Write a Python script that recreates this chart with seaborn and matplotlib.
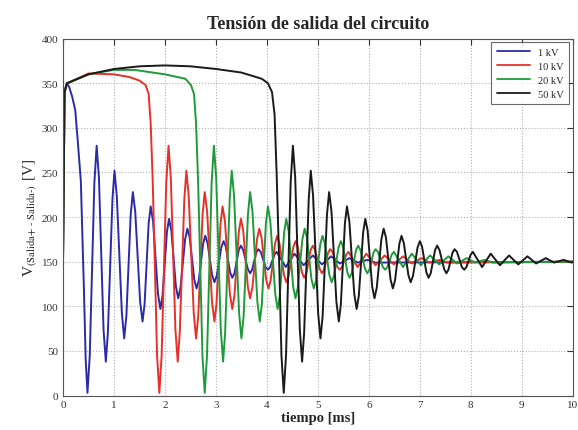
import pandas as pd
import matplotlib
matplotlib.use("Agg")
import matplotlib.pyplot as plt
import seaborn as sns

# values (tiempo in ms, tension in V)
# start of each curve up to the first trough after the fall
pre_t_1kv = [0, 0.03, 0.07, 0.12, 0.18, 0.24, 0.29, 0.35, 0.41, 0.445, 0.48]
pre_v_1kv = [150, 340, 350, 346, 335, 320, 285, 240, 120, 40, 3]

pre_t_10kv = [0, 0.03, 0.08, 0.5, 1.0, 1.3, 1.5, 1.62, 1.68, 1.72, 1.76, 1.80,
              1.845, 1.89]
pre_v_10kv = [150, 340, 350, 361, 360, 357, 353, 348, 338, 305, 240, 150,
              45, 3]

pre_t_20kv = [0, 0.03, 0.08, 0.5, 1.0, 1.4, 2.0, 2.4, 2.51, 2.57, 2.61, 2.65,
              2.69, 2.735, 2.78]
pre_v_20kv = [150, 340, 350, 360, 365, 365, 360, 355, 348, 338, 305, 240,
              150, 45, 3]

pre_t_50kv = [0, 0.03, 0.08, 0.5, 1.0, 1.5, 2.0, 2.5, 3.0, 3.5, 3.9, 4.02,
              4.10, 4.15, 4.19, 4.24, 4.285, 4.33]
pre_v_50kv = [150, 340, 350, 360, 366, 369, 370, 369, 366, 362, 355, 350,
              340, 315, 250, 150, 45, 3]

# ringing after the first trough (the same for the four curves):
# time since the first trough [ms] and tension [V]
ring_dt = [0.000, 0.045, 0.135, 0.180, 0.225, 0.315, 0.360, 0.400, 0.490, 0.530,
           0.575, 0.675, 0.720, 0.763, 0.848, 0.890, 0.937, 1.033, 1.080, 1.120,
           1.200, 1.240, 1.287, 1.383, 1.430, 1.473, 1.558, 1.600, 1.645, 1.735,
           1.780, 1.825, 1.915, 1.960, 2.005, 2.095, 2.140, 2.183, 2.268, 2.310,
           2.355, 2.445, 2.490, 2.535, 2.625, 2.670, 2.713, 2.798, 2.840, 2.883,
           2.968, 3.010, 3.055, 3.145, 3.190, 3.230, 3.310, 3.350, 3.398, 3.493,
           3.540, 3.583, 3.668, 3.710, 3.890, 4.060, 4.240, 4.420, 4.600, 4.780,
           4.950, 5.140, 5.300, 5.490, 5.650]
ring_v = [3, 45, 238, 280, 244, 74, 38, 70, 220, 252,
          224, 92, 64, 89, 203, 228, 206, 105, 83, 102,
          193, 212, 195, 114, 97, 112, 183, 198, 185, 122,
          109, 121, 175, 187, 177, 130, 120, 129, 170, 179,
          171, 135, 127, 134, 166, 173, 167, 138, 132, 137,
          163, 168, 163, 142, 137, 141, 160, 164, 161, 144,
          141, 144, 158, 161, 144, 159, 146, 157, 147, 156,
          148, 154, 149, 152, 149]

# first trough of each curve [ms]
t0_1kv, t0_10kv, t0_20kv, t0_50kv = 0.48, 1.89, 2.78, 4.33

labels = ["1 kV", "10 kV", "20 kV", "50 kV"]
colores = ["#2b2ba8", "#e8302a", "#1f9a3a", "#1a1a1a"]

frames = []
for lab, pt, pv, t0 in zip(labels,
                           [pre_t_1kv, pre_t_10kv, pre_t_20kv, pre_t_50kv],
                           [pre_v_1kv, pre_v_10kv, pre_v_20kv, pre_v_50kv],
                           [t0_1kv, t0_10kv, t0_20kv, t0_50kv]):
    t = pt + [t0 + d for d in ring_dt[1:]] + [10.0]
    v = pv + ring_v[1:] + [150]
    frames.append(pd.DataFrame({"tiempo": t, "tension": v, "serie": lab}))
df = pd.concat(frames, ignore_index=True)

sns.set_style("white")
plt.rcParams["font.family"] = ["Liberation Serif", "DejaVu Serif"]
plt.rcParams["mathtext.fontset"] = "stix"

fig = plt.figure(figsize=(5.78, 4.31), dpi=100)
ax = fig.add_axes([0.109, 0.080, 0.882, 0.828])

sns.lineplot(data=df, x="tiempo", y="tension", hue="serie", hue_order=labels,
             palette=dict(zip(labels, colores)), estimator=None, sort=False,
             linewidth=1.4, ax=ax)

ax.set_xlim(0, 10)
ax.set_ylim(0, 400)
ax.set_xticks(range(0, 11))
ax.set_yticks(range(0, 401, 50))
ax.grid(True, linestyle=":", color="#b0b0b0", linewidth=0.8)
ax.tick_params(direction="in", length=4, width=0.8, labelsize=8,
               top=True, right=True, colors="#333333")
for s in ax.spines.values():
    s.set_color("#555555")
    s.set_linewidth(0.8)

ax.set_title("Tensión de salida del circuito", fontsize=13, fontweight="bold", pad=8)
ax.set_xlabel("tiempo [ms]", fontsize=10.5, fontweight="bold", labelpad=1)
ax.set_ylabel(r"V$_{\text{(Salida+ - Salida-)}}$ [V]", fontsize=11, labelpad=2)

leg = ax.legend(loc="upper right", fontsize=7.5, frameon=True, fancybox=False,
                edgecolor="#444444", handlelength=3.2, borderpad=0.5,
                labelspacing=0.45, borderaxespad=0.35)
leg.get_frame().set_linewidth(0.8)
for line in leg.get_lines():
    line.set_linewidth(1.3)

fig.savefig("out.png", dpi=100)
